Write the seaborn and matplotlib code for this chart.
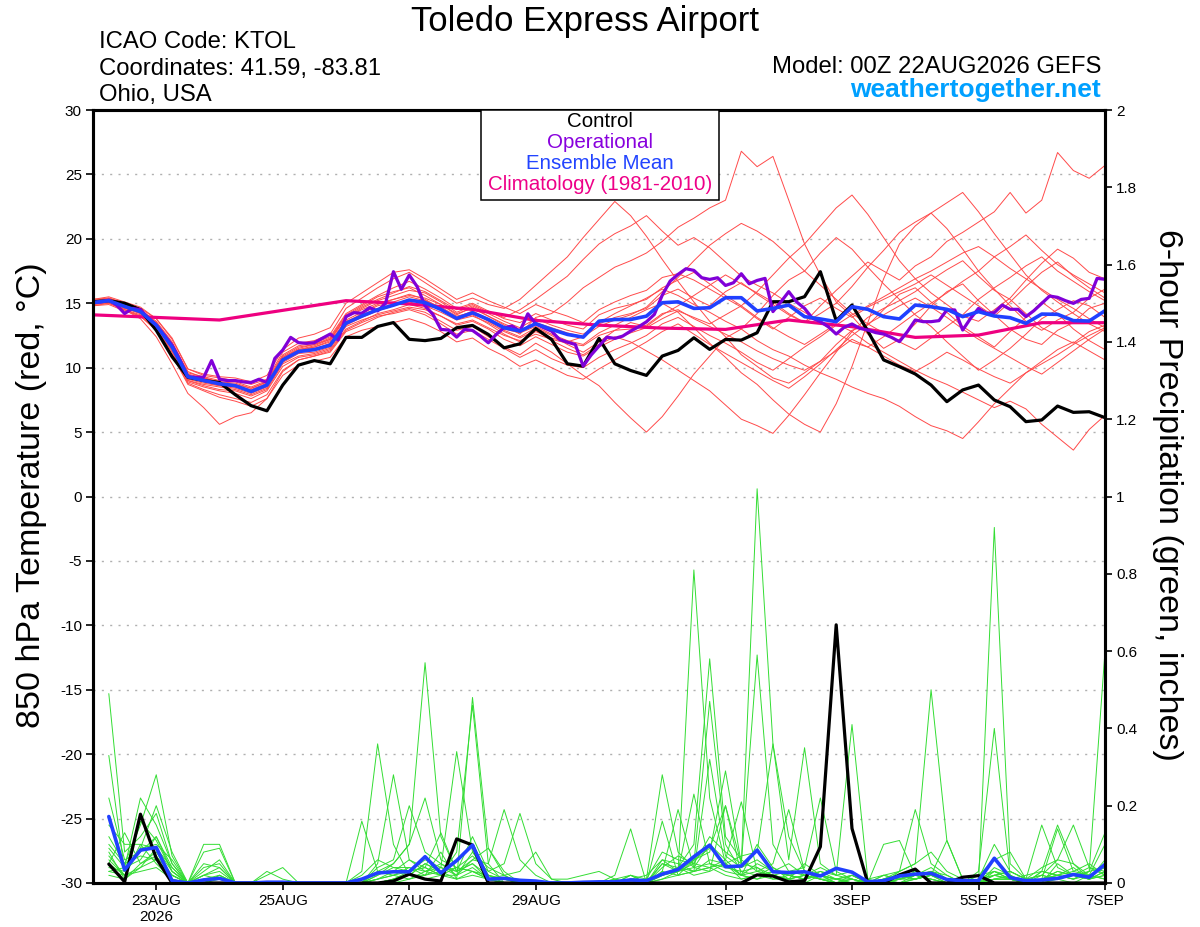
import numpy as np
import pandas as pd
import matplotlib
matplotlib.use("Agg")
import matplotlib.pyplot as plt
from matplotlib.patches import Rectangle
import seaborn as sns

# forecast hours from 00Z 22AUG2026
hours_t = np.arange(0, 385, 6)      # temperature, 6-hourly
hours_op = np.arange(0, 385, 3)     # operational, 3-hourly
hours_p = np.arange(6, 385, 6)      # 6-hour precipitation
clim_hours = np.arange(0, 385, 24)  # daily climatology

tick_hours = [24, 72, 120, 168, 240, 288, 336, 384]
tick_labels = ["23AUG\n2026", "25AUG", "27AUG", "29AUG", "1SEP", "3SEP", "5SEP", "7SEP"]

# 850 hPa temperature (C)
control_t = [15.12, 15.2, 15.0, 14.5, 12.9, 10.85, 9.25, 9.0, 8.85, 7.9, 7.05, 6.65, 8.65,
             10.2, 10.55, 10.3, 12.35, 12.35, 13.2, 13.5, 12.2, 12.1, 12.27, 13.1, 13.28, 12.58,
             11.54, 11.85, 13.04, 12.19, 10.3, 10.12, 12.27, 10.3, 9.78, 9.4, 10.9, 11.34, 12.32,
             11.42, 12.19, 12.14, 12.71, 15.12, 15.12, 15.51, 17.45, 13.65, 14.86, 12.85, 10.6, 10.08,
             9.51, 8.65, 7.36, 8.27, 8.65, 7.49, 6.97, 5.81, 5.94, 7.02, 6.53, 6.58, 6.12]

mean_t = [15.05, 15.2, 14.75, 14.35, 13.3, 11.6, 9.3, 9.0, 8.75, 8.6, 8.15, 8.65, 10.6,
          11.25, 11.4, 11.75, 13.45, 14.0, 14.5, 14.85, 15.25, 15.05, 14.52, 13.82, 14.26, 13.74,
          13.1, 12.84, 13.41, 12.97, 12.58, 12.37, 13.61, 13.74, 13.74, 14.0, 15.04, 15.11, 14.6,
          14.65, 15.43, 15.43, 14.4, 14.6, 14.86, 13.96, 13.78, 13.57, 14.73, 14.53, 13.96, 13.78,
          14.86, 14.73, 14.53, 13.96, 14.35, 14.01, 13.88, 13.44, 14.16, 14.14, 13.65, 13.62, 14.42]

oper_t = [15.05, 15.1, 15.25, 14.85, 14.2, 14.6, 14.5, 13.85, 13.3, 12.55, 11.75, 10.6, 9.3,
          9.25, 9.25, 10.55, 9.1, 9.0, 9.0, 8.9, 8.85, 9.1, 8.85, 10.72, 11.37, 12.35,
          11.94, 11.89, 11.94, 12.28, 12.61, 12.15, 13.96, 14.27, 14.22, 14.66, 14.4, 14.99, 17.45,
          16.08, 17.19, 16.29, 14.8, 14.13, 12.97, 12.92, 12.37, 12.97, 12.89, 12.45, 11.93, 12.58,
          13.1, 13.23, 12.84, 14.18, 13.41, 13.1, 12.84, 12.19, 11.98, 11.8, 10.12, 10.98, 11.67,
          12.37, 12.27, 12.45, 12.84, 13.17, 13.56, 14.13, 15.63, 16.72, 17.24, 17.68, 17.55, 16.98,
          16.85, 16.98, 16.38, 16.59, 17.29, 16.51, 16.77, 16.93, 14.35, 15.1, 15.9, 15.1, 14.6,
          13.83, 13.57, 13.18, 12.61, 13.13, 13.39, 13.05, 12.92, 12.72, 12.61, 12.35, 12.02, 12.79,
          13.7, 13.57, 13.57, 13.65, 14.48, 14.48, 12.92, 13.83, 14.6, 14.22, 14.27, 14.86, 14.53,
          14.53, 13.96, 14.42, 14.99, 15.56, 15.46, 15.2, 14.99, 15.3, 15.38, 16.93, 16.86]

clim_t = [14.1, 13.9, 13.7, 14.45, 15.2, 14.95, 14.52, 13.67, 13.3, 13.07, 12.97, 13.7, 13.18,
          12.35, 12.53, 13.49, 13.49]

temp_members = [
    [15.1, 15.2, 14.8, 14.4, 13.5, 11.9, 9.7, 9.2, 8.9, 8.7, 8.4, 8.9, 10.8,
     11.5, 11.8, 12.3, 14.1, 14.8, 15.5, 15.9, 16.2, 15.6, 14.9, 14.1, 14.7, 14.0,
     13.3, 12.6, 13.9, 14.2, 15.1, 16.2, 17.0, 17.8, 18.3, 18.9, 19.8, 20.9, 21.6,
     22.4, 23.0, 26.8, 25.6, 26.4, 23.0, 19.6, 17.2, 15.1, 14.0, 12.6, 11.5, 12.2,
     13.4, 14.8, 15.9, 16.5, 15.2, 14.1, 13.0, 12.2, 11.8, 12.9, 13.5, 14.6, 15.0],
    [15.0, 15.1, 14.6, 14.3, 13.2, 11.4, 9.0, 8.7, 8.5, 8.3, 7.9, 8.4, 10.4,
     11.1, 11.2, 11.6, 13.3, 13.9, 14.4, 14.8, 15.3, 15.2, 14.7, 14.0, 14.3, 13.6,
     12.9, 12.4, 13.1, 12.5, 11.8, 11.2, 12.0, 12.9, 13.5, 13.2, 14.1, 14.8, 15.6,
     16.4, 17.2, 16.5, 15.8, 15.1, 14.2, 13.5, 14.8, 16.0, 17.1, 18.2, 17.5, 16.8,
     17.9, 18.6, 19.8, 20.5, 21.3, 22.1, 23.6, 22.0, 23.0, 26.7, 25.3, 24.7, 25.7],
    [15.3, 15.4, 15.0, 14.6, 13.8, 12.3, 9.9, 9.4, 9.2, 9.0, 8.7, 9.1, 11.2,
     11.9, 12.1, 12.6, 14.6, 15.4, 16.2, 16.9, 17.4, 16.6, 15.8, 15.0, 15.4, 14.9,
     14.6, 15.3, 16.4, 17.5, 18.6, 20.1, 21.5, 22.9, 21.8, 20.2, 18.4, 16.7, 15.1,
     13.6, 12.4, 11.0, 10.1, 9.2, 8.8, 9.6, 10.5, 11.8, 12.9, 13.3, 14.5, 15.7,
     16.2, 15.1, 14.3, 13.2, 12.4, 11.6, 12.8, 13.9, 15.1, 14.2, 13.0, 12.1, 11.4],
    [14.8, 15.0, 14.5, 14.0, 12.9, 11.0, 8.8, 8.3, 7.9, 7.6, 7.3, 7.9, 9.8,
     10.6, 10.9, 11.2, 12.8, 13.3, 13.9, 14.3, 14.6, 14.3, 13.6, 12.9, 13.2, 12.4,
     11.6, 11.0, 11.9, 11.2, 10.3, 9.4, 8.6, 7.3, 6.1, 5.0, 6.2, 7.8, 9.5,
     10.9, 12.3, 13.0, 14.2, 15.6, 16.8, 17.5, 18.9, 20.1, 19.2, 17.8, 16.5, 15.3,
     14.1, 13.2, 12.0, 10.9, 9.8, 10.6, 11.5, 12.6, 13.8, 14.5, 15.2, 14.8, 13.9],
    [15.2, 15.3, 14.7, 14.2, 13.1, 11.5, 9.2, 8.9, 8.6, 8.4, 8.0, 8.5, 10.5,
     11.2, 11.4, 11.9, 13.6, 14.1, 14.6, 14.9, 15.1, 14.8, 14.3, 13.7, 14.0, 13.5,
     12.8, 12.3, 12.9, 12.1, 11.5, 11.0, 11.8, 12.4, 12.0, 11.3, 10.6, 9.8, 9.0,
     8.2, 7.1, 6.0, 5.5, 4.9, 6.3, 7.9, 9.6, 11.2, 12.8, 13.9, 14.6, 15.2,
     15.9, 16.8, 17.6, 18.3, 17.1, 16.0, 15.3, 14.2, 13.1, 12.5, 11.9, 12.8, 13.3],
    [15.0, 15.2, 14.8, 14.4, 13.4, 11.8, 9.4, 9.0, 8.8, 8.6, 8.2, 8.7, 10.7,
     11.3, 11.5, 11.8, 13.5, 14.2, 14.8, 15.1, 15.5, 15.2, 14.6, 13.9, 14.4, 13.8,
     13.0, 12.7, 13.2, 12.6, 12.1, 11.8, 12.7, 13.3, 13.9, 14.5, 15.0, 14.3, 13.1,
     11.9, 10.8, 9.6, 8.7, 7.5, 6.4, 5.6, 5.0, 7.2, 10.1, 13.5, 16.9, 19.6,
     21.0, 22.0, 20.8, 19.2, 17.5, 16.1, 14.8, 13.6, 12.9, 13.7, 14.3, 15.4, 16.1],
    [15.1, 15.2, 14.7, 14.3, 13.2, 11.5, 9.1, 8.8, 8.6, 8.5, 8.1, 8.6, 10.6,
     11.3, 11.6, 12.0, 13.7, 14.3, 14.9, 15.3, 15.7, 15.3, 14.6, 13.8, 14.1, 13.4,
     12.6, 12.0, 12.8, 12.3, 12.0, 12.4, 13.5, 14.2, 14.8, 15.4, 16.1, 15.6, 14.9,
     14.3, 13.6, 13.0, 12.1, 11.4, 10.9, 10.2, 9.6, 9.1, 8.5, 8.0, 7.6, 7.0,
     6.2, 5.5, 5.1, 4.5, 5.8, 7.2, 8.4, 9.6, 10.3, 11.0, 11.8, 12.5, 13.1],
    [14.9, 15.1, 14.6, 14.2, 13.0, 11.2, 8.9, 8.5, 8.2, 8.0, 7.6, 8.2, 10.1,
     10.8, 11.0, 11.4, 13.0, 13.6, 14.2, 14.5, 14.9, 14.6, 14.0, 13.3, 13.6, 13.0,
     12.2, 11.7, 12.4, 11.8, 11.2, 10.9, 11.6, 12.2, 12.7, 13.1, 13.8, 14.4, 13.9,
     13.4, 14.1, 14.8, 13.9, 13.1, 12.4, 11.8, 12.6, 13.4, 12.8, 11.9, 11.2, 10.5,
     9.8, 9.2, 8.7, 8.1, 7.5, 6.9, 7.4, 6.8, 5.6, 4.6, 3.6, 5.2, 6.3],
    [15.2, 15.4, 15.0, 14.5, 13.6, 12.0, 9.6, 9.3, 9.0, 8.9, 8.5, 9.0, 11.0,
     11.7, 11.9, 12.4, 14.2, 14.9, 15.6, 16.2, 16.7, 16.1, 15.4, 14.6, 15.0, 14.4,
     13.8, 13.5, 14.2, 13.7, 13.3, 13.0, 14.1, 14.6, 14.9, 15.3, 16.2, 16.8, 17.4,
     16.5, 15.6, 14.8, 15.9, 17.2, 18.5, 19.6, 21.0, 22.4, 23.4, 21.9, 20.1, 18.3,
     16.9, 15.8, 14.9, 14.0, 13.6, 14.5, 15.4, 16.8, 18.1, 19.2, 18.5, 17.4, 16.9],
    [15.0, 15.1, 14.7, 14.3, 13.3, 11.7, 9.4, 9.1, 8.8, 8.6, 8.3, 8.8, 10.8,
     11.4, 11.6, 12.1, 13.9, 14.6, 15.2, 15.6, 16.0, 15.8, 15.1, 14.3, 14.8, 14.2,
     13.6, 13.1, 13.8, 13.3, 12.9, 12.6, 13.4, 13.9, 14.2, 14.6, 15.6, 16.1, 15.4,
     14.8, 15.9, 16.6, 15.7, 14.9, 14.1, 13.5, 14.2, 15.0, 16.3, 17.8, 19.1, 20.5,
     21.3, 22.0, 22.8, 23.6, 22.1, 20.4, 18.8, 17.2, 16.0, 15.1, 14.2, 13.4, 12.8],
    [15.1, 15.3, 14.9, 14.5, 13.5, 11.8, 9.5, 9.2, 8.9, 8.8, 8.4, 8.9, 10.9,
     11.6, 11.8, 12.2, 14.0, 14.7, 15.3, 15.8, 16.3, 15.9, 15.2, 14.5, 14.9, 14.3,
     13.9, 14.5, 15.3, 16.2, 17.1, 18.4, 19.6, 20.4, 21.0, 21.8, 20.6, 19.5, 20.1,
     19.3, 18.2, 17.1, 16.4, 15.8, 15.0, 14.3, 13.5, 12.7, 12.0, 11.6, 12.4, 13.3,
     14.2, 15.0, 15.8, 16.7, 17.5, 18.6, 19.4, 20.3, 19.1, 18.0, 17.2, 16.5, 15.8],
    [14.9, 15.0, 14.5, 14.1, 13.0, 11.3, 9.0, 8.6, 8.3, 8.2, 7.8, 8.3, 10.3,
     10.9, 11.1, 11.5, 13.2, 13.7, 14.1, 14.4, 14.7, 14.5, 14.0, 13.4, 13.7, 13.1,
     12.5, 12.1, 12.6, 12.2, 11.9, 11.7, 12.5, 12.9, 13.0, 13.3, 14.2, 14.5, 13.8,
     13.2, 12.6, 12.0, 11.3, 10.7, 10.2, 9.8, 10.5, 11.3, 12.2, 11.6, 10.9, 10.2,
     9.7, 10.4, 11.2, 10.6, 9.9, 9.3, 8.8, 9.6, 10.5, 11.4, 12.0, 11.3, 10.6],
    [15.0, 15.2, 14.5, 13.8, 12.4, 10.3, 8.0, 6.9, 5.6, 6.2, 6.5, 7.6, 9.7,
     10.6, 10.9, 11.3, 12.9, 13.5, 14.0, 14.2, 14.5, 14.1, 13.4, 12.6, 12.9, 12.2,
     11.5, 10.8, 11.4, 10.7, 10.2, 10.0, 10.8, 11.4, 11.9, 12.5, 13.4, 13.9, 13.2,
     12.5, 11.9, 11.2, 10.4, 9.8, 10.7, 11.6, 12.4, 13.3, 14.1, 14.8, 15.5, 16.2,
     16.9, 17.5, 18.2, 18.9, 19.4, 18.6, 17.7, 16.9, 16.1, 15.3, 14.6, 13.8, 13.1],
    [15.3, 15.5, 15.1, 14.7, 13.8, 12.2, 9.9, 9.5, 9.3, 9.2, 8.9, 9.4, 11.4,
     12.3, 12.6, 13.1, 15.0, 15.8, 16.6, 17.4, 17.6, 16.9, 16.1, 15.3, 15.8, 15.2,
     14.7, 14.2, 14.9, 14.4, 14.0, 13.5, 14.5, 15.1, 15.6, 16.0, 17.0, 17.3, 16.8,
     16.1, 15.4, 14.7, 13.8, 13.0, 13.9, 14.8, 15.4, 14.6, 13.9, 14.7, 15.3, 15.9,
     16.5, 17.2, 16.4, 15.6, 14.8, 14.0, 15.1, 16.3, 17.4, 18.2, 17.1, 16.2, 15.4],
    [14.8, 14.9, 14.4, 14.0, 12.9, 11.0, 8.7, 8.2, 7.7, 7.4, 7.0, 7.6, 9.4,
     10.2, 10.5, 10.8, 12.4, 12.9, 13.2, 13.5, 13.8, 13.4, 12.8, 12.0, 12.3, 11.5,
     10.9, 10.1, 10.6, 10.0, 9.4, 9.1, 9.9, 10.6, 11.3, 12.0, 12.8, 13.4, 12.6,
     11.8, 11.1, 10.4, 9.7, 9.0, 8.4, 9.3, 10.3, 11.4, 12.5, 13.4, 14.1, 14.8,
     15.4, 14.7, 13.9, 13.0, 12.2, 11.5, 10.8, 10.1, 9.5, 10.4, 11.3, 12.2, 13.0],
    [15.1, 15.2, 14.8, 14.4, 13.4, 11.7, 9.3, 9.0, 8.7, 8.5, 8.2, 8.7, 10.7,
     11.4, 11.7, 12.2, 13.9, 14.5, 15.0, 15.3, 15.6, 15.4, 14.9, 14.2, 14.6, 14.0,
     13.4, 12.9, 13.5, 13.1, 12.7, 12.4, 13.2, 13.7, 14.1, 14.7, 15.9, 17.0, 18.3,
     19.5, 20.4, 21.2, 20.6, 19.8, 18.7, 17.5, 16.4, 15.3, 14.2, 13.4, 12.7, 12.0,
     11.4, 12.3, 13.2, 14.1, 15.3, 16.2, 17.0, 17.9, 18.6, 17.5, 16.7, 15.9, 15.2],
]

# 6-hour precipitation (inches)
control_p = [0.049, 0.003, 0.178, 0.064, 0, 0, 0, 0, 0, 0, 0, 0, 0, 0, 0, 0,
             0, 0, 0.005, 0.023, 0.010, 0.005, 0.114, 0.098, 0, 0, 0, 0, 0, 0, 0, 0,
             0, 0, 0, 0, 0, 0, 0, 0, 0, 0.021, 0.018, 0.003, 0.006, 0.094, 0.668, 0.141,
             0, 0, 0.021, 0.036, 0, 0, 0.015, 0.019, 0, 0, 0, 0, 0, 0, 0, 0]

mean_p = [0.172, 0.034, 0.085, 0.092, 0.006, 0, 0.008, 0.012, 0, 0, 0.002, 0.002, 0, 0, 0, 0,
          0.01, 0.026, 0.029, 0.029, 0.068, 0.026, 0.058, 0.098, 0.01, 0.012, 0.007, 0.005, 0, 0, 0.002, 0.003,
          0.003, 0.008, 0.006, 0.023, 0.035, 0.068, 0.098, 0.042, 0.044, 0.085, 0.029, 0.027, 0.029, 0.018, 0.038, 0.028,
          0.003, 0.006, 0.018, 0.023, 0.025, 0.009, 0.006, 0.006, 0.064, 0.014, 0.006, 0.008, 0.012, 0.022, 0.015, 0.048]

precip_members = [
    [0.49, 0.08, 0.12, 0.18, 0.05, 0, 0.02, 0.03, 0, 0, 0, 0, 0, 0, 0, 0,
     0, 0.02, 0.05, 0.10, 0.57, 0.12, 0.03, 0.05, 0.01, 0, 0, 0, 0, 0, 0, 0,
     0, 0.02, 0, 0.06, 0.03, 0.81, 0.22, 0.05, 0.02, 0.10, 0.04, 0.01, 0, 0.02, 0, 0.01,
     0, 0, 0.03, 0.05, 0.08, 0.03, 0.01, 0, 0.04, 0.02, 0, 0.01, 0.03, 0.02, 0.01, 0.05],
    [0.33, 0.03, 0.09, 0.10, 0.06, 0, 0.04, 0.05, 0, 0, 0, 0, 0, 0, 0, 0,
     0.02, 0.06, 0.04, 0.04, 0.02, 0.08, 0.01, 0.48, 0.09, 0.02, 0, 0, 0, 0, 0, 0,
     0.01, 0, 0, 0.03, 0.02, 0.06, 0.09, 0.20, 0.05, 1.02, 0.36, 0.12, 0.03, 0.01, 0, 0.02,
     0, 0.01, 0, 0.02, 0.03, 0.01, 0, 0.02, 0.06, 0.08, 0.01, 0, 0.05, 0.02, 0.03, 0.60],
    [0.12, 0.05, 0.15, 0.28, 0.07, 0, 0.02, 0.04, 0, 0, 0, 0, 0, 0, 0, 0,
     0.03, 0.36, 0.10, 0.02, 0.05, 0.03, 0.06, 0.10, 0.02, 0.01, 0, 0, 0, 0, 0, 0,
     0, 0.01, 0, 0.05, 0.04, 0.10, 0.58, 0.12, 0.06, 0.03, 0.02, 0.01, 0.05, 0.02, 0.01, 0.02,
     0, 0, 0.01, 0.02, 0.04, 0.01, 0, 0, 0.92, 0.05, 0.01, 0.02, 0.01, 0, 0.02, 0.04],
    [0.22, 0.06, 0.08, 0.12, 0.03, 0, 0, 0.02, 0, 0, 0, 0, 0, 0, 0, 0,
     0, 0.01, 0.03, 0.06, 0.04, 0.02, 0.08, 0.46, 0.05, 0, 0, 0, 0, 0, 0, 0,
     0, 0, 0.01, 0.08, 0.06, 0.05, 0.47, 0.10, 0.03, 0.04, 0.01, 0.02, 0.03, 0.01, 0, 0,
     0.01, 0.02, 0.03, 0.05, 0.50, 0.11, 0.01, 0, 0.02, 0.01, 0, 0.03, 0.02, 0.04, 0.01, 0.03],
    [0.09, 0.04, 0.22, 0.15, 0.05, 0, 0.03, 0.06, 0, 0, 0, 0, 0, 0, 0, 0,
     0, 0.05, 0.28, 0.06, 0.03, 0.04, 0.02, 0.08, 0.02, 0, 0, 0, 0, 0, 0, 0,
     0.01, 0.02, 0, 0.04, 0.07, 0.05, 0.12, 0.08, 0.05, 0.59, 0.10, 0.03, 0.02, 0.04, 0.02, 0.41,
     0.01, 0, 0.02, 0.01, 0.03, 0.02, 0, 0.01, 0.10, 0.03, 0.01, 0.02, 0.06, 0.05, 0.02, 0.10],
    [0.15, 0.10, 0.10, 0.09, 0.04, 0, 0, 0.01, 0, 0, 0, 0, 0, 0, 0, 0,
     0, 0.03, 0.05, 0.10, 0.22, 0.06, 0.04, 0.03, 0.01, 0, 0, 0, 0, 0, 0, 0,
     0, 0.01, 0.02, 0.06, 0.05, 0.03, 0.32, 0.07, 0.04, 0.06, 0.03, 0.05, 0.02, 0.03, 0.01, 0.02,
     0, 0.01, 0.02, 0.01, 0.02, 0.01, 0, 0.03, 0.40, 0.02, 0, 0.01, 0.03, 0.02, 0.01, 0.06],
    [0.06, 0.02, 0.09, 0.20, 0.08, 0, 0.05, 0.04, 0, 0, 0, 0, 0, 0, 0, 0,
     0, 0.04, 0.06, 0.20, 0.08, 0.05, 0.03, 0.12, 0.03, 0.01, 0, 0, 0, 0, 0, 0,
     0, 0.01, 0, 0.02, 0.04, 0.03, 0.06, 0.05, 0.07, 0.08, 0.36, 0.06, 0.35, 0.05, 0.02, 0.03,
     0, 0.02, 0.01, 0.03, 0.02, 0.01, 0, 0, 0.03, 0.02, 0, 0.01, 0.02, 0.03, 0.05, 0.02],
    [0.10, 0.05, 0.07, 0.06, 0.02, 0, 0, 0, 0, 0, 0, 0, 0, 0, 0, 0,
     0, 0.02, 0.04, 0.03, 0.06, 0.04, 0.34, 0.08, 0.04, 0.02, 0, 0, 0, 0, 0, 0,
     0, 0.02, 0.01, 0.28, 0.08, 0.04, 0.10, 0.06, 0.02, 0.05, 0.03, 0.02, 0.01, 0.02, 0.01, 0,
     0, 0.01, 0.03, 0.19, 0.05, 0.02, 0, 0.01, 0.03, 0.01, 0, 0.02, 0.01, 0.02, 0.04, 0.03],
    [0.04, 0.03, 0.16, 0.11, 0.03, 0, 0.02, 0.01, 0, 0, 0, 0, 0, 0, 0, 0,
     0, 0.01, 0.02, 0.04, 0.03, 0.05, 0.02, 0.06, 0.05, 0.19, 0.06, 0.02, 0, 0, 0, 0,
     0, 0, 0, 0.05, 0.03, 0.06, 0.08, 0.29, 0.05, 0.04, 0.02, 0.03, 0.04, 0.22, 0.03, 0.01,
     0, 0.02, 0.01, 0.02, 0.03, 0.01, 0, 0, 0.02, 0.01, 0, 0.03, 0.02, 0.01, 0.03, 0.04],
    [0.05, 0.13, 0.05, 0.08, 0.02, 0, 0, 0.02, 0, 0, 0, 0, 0, 0, 0, 0,
     0, 0, 0.01, 0.02, 0.05, 0.03, 0.04, 0.07, 0.03, 0.05, 0.18, 0.05, 0.01, 0, 0, 0,
     0, 0, 0.01, 0.02, 0.03, 0.05, 0.04, 0.06, 0.21, 0.03, 0.02, 0.01, 0.02, 0.01, 0, 0,
     0, 0, 0.01, 0.02, 0.01, 0, 0, 0.01, 0.02, 0.03, 0.01, 0.15, 0.04, 0.02, 0.01, 0.02],
    [0.05, 0.02, 0.04, 0.09, 0.03, 0, 0, 0, 0, 0, 0, 0, 0, 0, 0, 0,
     0, 0.01, 0.02, 0.03, 0.04, 0.13, 0.03, 0.05, 0.02, 0.01, 0, 0, 0, 0, 0, 0,
     0, 0, 0, 0.03, 0.19, 0.04, 0.05, 0.04, 0.03, 0.02, 0.04, 0.02, 0.01, 0.02, 0, 0.01,
     0, 0.01, 0, 0.01, 0.02, 0, 0, 0.02, 0.03, 0.01, 0.02, 0.03, 0.15, 0.05, 0.01, 0.02],
    [0.03, 0.04, 0.06, 0.12, 0.04, 0, 0, 0, 0, 0, 0, 0, 0, 0, 0, 0,
     0.16, 0.03, 0.02, 0.01, 0.03, 0.02, 0.04, 0.03, 0.01, 0, 0, 0, 0, 0, 0, 0,
     0, 0.01, 0, 0.02, 0.04, 0.02, 0.03, 0.05, 0.02, 0.03, 0.05, 0.19, 0.03, 0.02, 0.01, 0.01,
     0, 0.01, 0.02, 0.01, 0.02, 0.01, 0, 0.01, 0.02, 0.03, 0.01, 0.04, 0.06, 0.15, 0.04, 0.02],
    [0.08, 0.01, 0.05, 0.07, 0.02, 0, 0, 0, 0, 0, 0, 0, 0, 0, 0, 0,
     0, 0, 0.01, 0.02, 0.02, 0.04, 0.03, 0.06, 0.09, 0.03, 0, 0, 0, 0, 0, 0,
     0.02, 0.14, 0, 0.01, 0.02, 0.03, 0.04, 0.05, 0.01, 0.02, 0.03, 0.02, 0.01, 0.03, 0.02, 0.01,
     0, 0.10, 0.11, 0.02, 0.01, 0, 0, 0, 0.01, 0.02, 0, 0.01, 0.02, 0.01, 0.02, 0.01],
    [0.07, 0.02, 0.10, 0.05, 0.01, 0, 0.01, 0.02, 0, 0, 0.02, 0.04, 0, 0, 0, 0,
     0, 0, 0.01, 0.03, 0.04, 0.02, 0.02, 0.04, 0.01, 0.02, 0.03, 0.08, 0.01, 0.01, 0.02, 0.03,
     0.01, 0, 0, 0.02, 0.03, 0.04, 0.03, 0.20, 0.02, 0.01, 0.02, 0.01, 0.02, 0.01, 0.01, 0,
     0, 0, 0.01, 0.01, 0.02, 0, 0, 0, 0.01, 0.01, 0, 0.01, 0.14, 0.03, 0.02, 0.01],
    [0.02, 0.01, 0.04, 0.06, 0.02, 0, 0.10, 0.10, 0, 0, 0, 0, 0, 0, 0, 0,
     0, 0, 0, 0.01, 0.02, 0.03, 0.01, 0.02, 0.01, 0, 0, 0, 0, 0, 0, 0,
     0, 0, 0, 0.01, 0.03, 0.23, 0.05, 0.03, 0.02, 0.01, 0.03, 0.02, 0.01, 0.02, 0.01, 0,
     0, 0, 0, 0.01, 0.02, 0.11, 0.01, 0, 0.01, 0.01, 0, 0, 0.01, 0.02, 0.01, 0.03],
    [0.03, 0.02, 0.03, 0.04, 0.01, 0, 0.08, 0.09, 0, 0, 0.03, 0.01, 0, 0, 0, 0,
     0, 0, 0.01, 0.02, 0.01, 0.02, 0.01, 0.03, 0.02, 0, 0, 0, 0, 0, 0, 0,
     0, 0, 0, 0.16, 0.02, 0.03, 0.04, 0.02, 0.01, 0.02, 0.01, 0.01, 0.02, 0.01, 0, 0,
     0, 0, 0.01, 0.02, 0.01, 0, 0, 0, 0.01, 0.01, 0, 0.01, 0.02, 0.01, 0.03, 0.13],
]

# long tables for seaborn
t_long = pd.DataFrame([(m, h, v) for m, row in enumerate(temp_members)
                       for h, v in zip(hours_t, row)], columns=["member", "hour", "temp"])
p_long = pd.DataFrame([(m, h, v) for m, row in enumerate(precip_members)
                       for h, v in zip(hours_p, row)], columns=["member", "hour", "precip"])

sns.set_style("white")
plt.rcParams["font.family"] = ["Liberation Sans", "DejaVu Sans"]
plt.rcParams["axes.unicode_minus"] = False
plt.rcParams["text.color"] = "black"
plt.rcParams["xtick.color"] = "black"
plt.rcParams["ytick.color"] = "black"
plt.rcParams["axes.labelcolor"] = "black"

W, H = 1200, 927
fig = plt.figure(figsize=(W / 100, H / 100), dpi=100)
ax = fig.add_axes([93 / W, 1 - 883 / H, 1012 / W, 773 / H])
ax2 = ax.twinx()

# temperature
sns.lineplot(data=t_long, x="hour", y="temp", units="member", estimator=None,
             color="#FF4A4A", lw=0.7, ax=ax)
sns.lineplot(x=clim_hours, y=clim_t, color="#EE0080", lw=2.3, ax=ax)
sns.lineplot(x=hours_t, y=control_t, color="black", lw=2.3, ax=ax)
sns.lineplot(x=hours_op, y=oper_t, color="#8000D8", lw=2.3, ax=ax)
sns.lineplot(x=hours_t, y=mean_t, color="#2040FF", lw=2.6, ax=ax)

# precipitation
sns.lineplot(data=p_long, x="hour", y="precip", units="member", estimator=None,
             color="#33DD33", lw=0.7, ax=ax2)
sns.lineplot(x=hours_p, y=control_p, color="black", lw=2.3, ax=ax2)
sns.lineplot(x=hours_p, y=mean_p, color="#2040FF", lw=2.6, ax=ax2)

ax.set_xlim(0, 384)
ax.set_ylim(-30, 30)
ax.set_yticks(np.arange(-30, 31, 5))
ax.set_xticks(tick_hours)
ax.set_xticklabels(tick_labels)
ax2.set_ylim(0, 2)
ax2.set_yticks(np.arange(0, 2.01, 0.2))
ax2.set_yticklabels(["%g" % round(v, 1) for v in np.arange(0, 2.01, 0.2)])
for a in (ax, ax2):
    a.set_xlabel("")
    a.set_ylabel("")
    for s in a.spines.values():
        s.set_linewidth(2.2)
        s.set_color("black")

ax.yaxis.grid(True, color="#b0b0b0", lw=1.0, linestyle=(0, (1.5, 4.5)))
ax.set_axisbelow(True)
ax.tick_params(axis="both", direction="out", length=5, width=1.2, labelsize=11, pad=3,
               bottom=True, left=True, colors="black")
ax2.tick_params(axis="y", direction="out", length=5, width=1.2, labelsize=11, pad=3,
                right=True, colors="black")

# legend box
ax2.add_patch(Rectangle((388 / 1012, 1 - 90 / 773), 238 / 1012, 90 / 773,
                        transform=ax2.transAxes, facecolor="white", edgecolor="black",
                        lw=1.1, zorder=10))


def px(x, y):
    return x / W, 1 - y / H


for txt, col, yb in [("Control", "black", 127), ("Operational", "#8800DD", 148),
                     ("Ensemble Mean", "#2244FF", 169), ("Climatology (1981-2010)", "#EE0088", 190)]:
    fig.text(*px(600, yb), txt, color=col, fontsize=14.8, ha="center", va="baseline")

fig.text(*px(585, 31), "Toledo Express Airport", fontsize=25, ha="center", va="baseline")
fig.text(*px(99, 48), "ICAO Code: KTOL", fontsize=17.2, ha="left", va="baseline")
fig.text(*px(99, 75), "Coordinates: 41.59, -83.81", fontsize=17.2, ha="left", va="baseline")
fig.text(*px(99, 101), "Ohio, USA", fontsize=17.2, ha="left", va="baseline")
fig.text(*px(1101, 73), "Model: 00Z 22AUG2026 GEFS", fontsize=17.2, ha="right", va="baseline")
fig.text(*px(1101, 97), "weathertogether.net", fontsize=19, fontweight="bold",
         color="#00A0FF", ha="right", va="baseline")

fig.text(*px(32, 495), "850 hPa Temperature (red, °C)", fontsize=24.5, rotation=90,
         ha="center", va="center")
fig.text(*px(1168, 495), "6-hour Precipitation (green, inches)", fontsize=24.5, rotation=-90,
         ha="center", va="center")

fig.savefig("out.png", dpi=100)
